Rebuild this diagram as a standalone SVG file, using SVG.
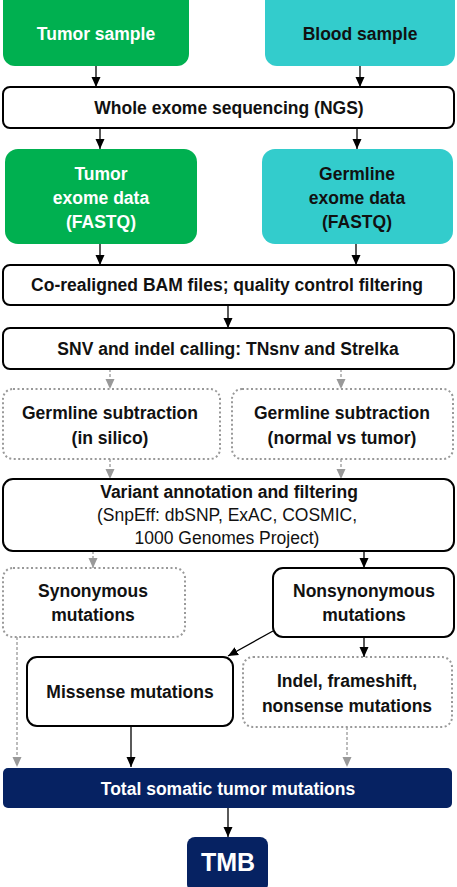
<svg xmlns="http://www.w3.org/2000/svg" width="457" height="887" viewBox="0 0 457 887">
<style>
.b{font-family:"Liberation Sans",Arial,sans-serif;font-weight:bold;font-size:17.5px;text-anchor:middle;fill:#111}
.r{font-family:"Liberation Sans",Arial,sans-serif;font-size:17.5px;text-anchor:middle;fill:#111}
.w{fill:#fff}
.solid{fill:#fff;stroke:#000;stroke-width:2}
.dot{fill:#fff;stroke:#999;stroke-width:2;stroke-dasharray:2 2.5}
.navy{fill:#062262}
.ln{stroke:#000;stroke-width:1.3;fill:none}
.dl{stroke:#999;stroke-width:1.3;fill:none;stroke-dasharray:3 2}
</style>
<defs>
<marker id="ab" markerWidth="10" markerHeight="10" refX="10" refY="5" orient="auto" markerUnits="userSpaceOnUse"><path d="M0,0.5 L10,5 L0,9.5 Z" fill="#000"/></marker>
<marker id="ag" markerWidth="10" markerHeight="10" refX="10" refY="5" orient="auto" markerUnits="userSpaceOnUse"><path d="M0,0.5 L10,5 L0,9.5 Z" fill="#999"/></marker>
</defs>
<g id="connectors">
<line class="ln" x1="96" y1="66" x2="96" y2="87" marker-end="url(#ab)"/>
<line class="ln" x1="360" y1="66" x2="360" y2="87" marker-end="url(#ab)"/>
<line class="ln" x1="100" y1="128" x2="100" y2="149" marker-end="url(#ab)"/>
<line class="ln" x1="357" y1="128" x2="357" y2="149" marker-end="url(#ab)"/>
<line class="ln" x1="100" y1="244" x2="100" y2="265" marker-end="url(#ab)"/>
<line class="ln" x1="356" y1="244" x2="356" y2="265" marker-end="url(#ab)"/>
<line class="ln" x1="228" y1="305" x2="228" y2="328" marker-end="url(#ab)"/>
<line class="dl" x1="110" y1="369" x2="110" y2="389" marker-end="url(#ag)"/>
<line class="dl" x1="341" y1="369" x2="341" y2="389" marker-end="url(#ag)"/>
<line class="dl" x1="110" y1="459" x2="110" y2="479" marker-end="url(#ag)"/>
<line class="dl" x1="341" y1="459" x2="341" y2="479" marker-end="url(#ag)"/>
<line class="dl" x1="93" y1="551" x2="93" y2="568" marker-end="url(#ag)"/>
<line class="ln" x1="364" y1="551" x2="364" y2="568" marker-end="url(#ab)"/>
<line class="ln" x1="273" y1="631" x2="228" y2="656" marker-end="url(#ab)"/>
<line class="ln" x1="364" y1="637" x2="364" y2="657" marker-end="url(#ab)"/>
<line class="dl" x1="17" y1="637" x2="17" y2="767" marker-end="url(#ag)"/>
<line class="ln" x1="131" y1="726" x2="131" y2="767" marker-end="url(#ab)"/>
<line class="dl" x1="347" y1="727" x2="347" y2="767" marker-end="url(#ag)"/>
<line class="ln" x1="228" y1="808" x2="228" y2="837" marker-end="url(#ab)"/>
</g>
<g id="tumor-sample"><rect x="3" y="-12" width="186" height="78" rx="12" fill="#00B050"/><text class="b w" x="96" y="40">Tumor sample</text></g>
<g id="blood-sample"><rect x="265" y="-12" width="190" height="78" rx="12" fill="#33CCCC"/><text class="b" x="360" y="40">Blood sample</text></g>
<g id="wes"><rect class="solid" x="3" y="87" width="451" height="41" rx="7"/><text class="b" x="229" y="114">Whole exome sequencing (NGS)</text></g>
<g id="tumor-exome"><rect x="5" y="149" width="192" height="95" rx="13" fill="#00B050"/><text class="b w" x="101" y="180">Tumor</text><text class="b w" x="101" y="204">exome data</text><text class="b w" x="101" y="228">(FASTQ)</text></g>
<g id="germline-exome"><rect x="262" y="149" width="191" height="95" rx="13" fill="#33CCCC"/><text class="b" x="357" y="180">Germline</text><text class="b" x="357" y="204">exome data</text><text class="b" x="357" y="228">(FASTQ)</text></g>
<g id="bam"><rect class="solid" x="3" y="265" width="451" height="40" rx="7"/><text class="b" x="227" y="291">Co-realigned BAM files; quality control filtering</text></g>
<g id="snv"><rect class="solid" x="3" y="328" width="451" height="41" rx="7"/><text class="b" x="228" y="355">SNV and indel calling: TNsnv and Strelka</text></g>
<g id="germ-silico"><rect class="dot" x="3" y="389" width="217" height="70" rx="10"/><text class="b" x="110" y="419">Germline subtraction</text><text class="b" x="110" y="444">(in silico)</text></g>
<g id="germ-normal"><rect class="dot" x="232" y="389" width="221" height="70" rx="10"/><text class="b" x="342" y="419">Germline subtraction</text><text class="b" x="342" y="444">(normal vs tumor)</text></g>
<g id="variant"><rect class="solid" x="3" y="479" width="451" height="72" rx="10"/><text class="b" x="229" y="498">Variant annotation and filtering</text><text class="r" x="227" y="521">(SnpEff: dbSNP, ExAC, COSMIC,</text><text class="r" x="227" y="544">1000 Genomes Project)</text></g>
<g id="synonymous"><rect class="dot" x="3" y="568" width="182" height="69" rx="10"/><text class="b" x="93" y="597">Synonymous</text><text class="b" x="93" y="621">mutations</text></g>
<g id="nonsynonymous"><rect class="solid" x="273" y="568" width="181" height="69" rx="10"/><text class="b" x="364" y="597">Nonsynonymous</text><text class="b" x="364" y="621">mutations</text></g>
<g id="missense"><rect class="solid" x="27" y="657" width="206" height="69" rx="10"/><text class="b" x="130" y="698">Missense mutations</text></g>
<g id="indel"><rect class="dot" x="243" y="657" width="209" height="70" rx="10"/><text class="b" x="347" y="687">Indel, frameshift,</text><text class="b" x="347" y="712">nonsense mutations</text></g>
<g id="total"><rect class="navy" x="3" y="768" width="449" height="40" rx="5"/><text class="b w" x="228" y="795">Total somatic tumor mutations</text></g>
<g id="tmb"><rect class="navy" x="187" y="837" width="81" height="55" rx="8"/><text class="b w" x="228" y="871" style="font-size:25px">TMB</text></g>
</svg>
